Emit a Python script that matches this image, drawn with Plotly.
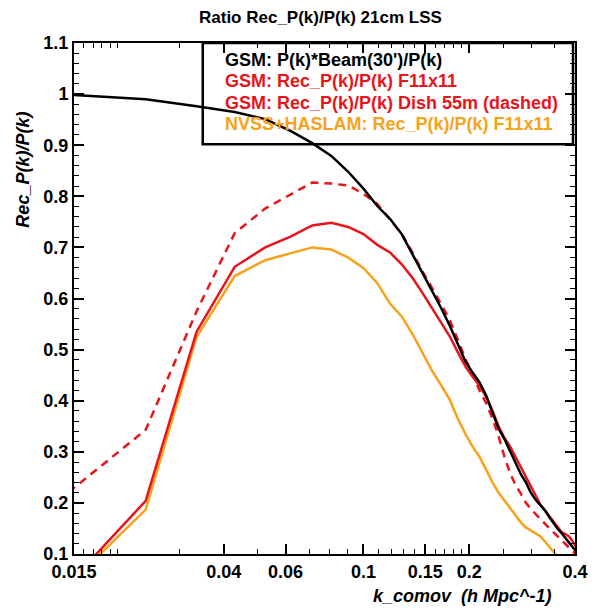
import plotly.graph_objects as go

# k grid (h Mpc^-1) and ratios
k = [0.0145, 0.024, 0.0335, 0.043, 0.0525, 0.062, 0.0715, 0.081, 0.0905, 0.1,
     0.1095, 0.119, 0.1285, 0.138, 0.1475, 0.157, 0.1665, 0.176, 0.1855, 0.195,
     0.2045, 0.214, 0.2235, 0.233, 0.2425, 0.252, 0.2615, 0.271, 0.2805, 0.29,
     0.2995, 0.309, 0.3185, 0.328, 0.3375, 0.347, 0.3565, 0.366, 0.3755, 0.385,
     0.3945, 0.404]

gsm_beam = [0.999, 0.990, 0.976, 0.965, 0.951, 0.928, 0.904, 0.879, 0.848, 0.815,
            0.781, 0.756, 0.726, 0.686, 0.651, 0.616, 0.581, 0.547, 0.511, 0.477,
            0.455, 0.436, 0.410, 0.377, 0.345, 0.325, 0.302, 0.278, 0.256, 0.240,
            0.220, 0.206, 0.196, 0.186, 0.173, 0.161, 0.150, 0.141, 0.131, 0.122,
            0.113, 0.105]

gsm_f11 = [0.042, 0.204, 0.535, 0.662, 0.700, 0.721, 0.743, 0.748, 0.740, 0.726,
           0.705, 0.690, 0.667, 0.640, 0.610, 0.580, 0.553, 0.526, 0.495, 0.467,
           0.447, 0.430, 0.407, 0.380, 0.350, 0.327, 0.310, 0.290, 0.268, 0.250,
           0.232, 0.215, 0.197, 0.186, 0.175, 0.163, 0.152, 0.143, 0.139, 0.134,
           0.124, 0.113]

gsm_dish = [0.221, 0.343, 0.575, 0.728, 0.776, 0.803, 0.827, 0.825, 0.821, 0.805,
            0.785, 0.755, 0.726, 0.690, 0.652, 0.620, 0.588, 0.558, 0.520, 0.482,
            0.452, 0.420, 0.395, 0.365, 0.330, 0.290, 0.258, 0.235, 0.218, 0.200,
            0.188, 0.178, 0.170, 0.160, 0.151, 0.143, 0.135, 0.127, 0.120, 0.112,
            0.105, 0.098]

nvss_f11 = [0.040, 0.187, 0.525, 0.644, 0.675, 0.688, 0.700, 0.696, 0.680, 0.660,
            0.630, 0.590, 0.565, 0.530, 0.493, 0.458, 0.430, 0.402, 0.365, 0.335,
            0.310, 0.290, 0.265, 0.240, 0.220, 0.205, 0.190, 0.175, 0.162, 0.152,
            0.146, 0.140, 0.135, 0.125, 0.115, 0.104, 0.095, 0.090, 0.085, 0.080,
            0.075, 0.070]

x_ticks = [0.015, 0.04, 0.06, 0.1, 0.15, 0.2, 0.4]
x_ticklabels = ["0.015", "0.04", "0.06", "0.1", "0.15", "0.2", "0.4"]
x_minor = [0.016, 0.017, 0.018, 0.019, 0.02, 0.03, 0.05, 0.07, 0.08, 0.09,
           0.11, 0.12, 0.13, 0.14, 0.16, 0.17, 0.18, 0.19, 0.25, 0.3, 0.35]
y_ticks = [0.1, 0.2, 0.3, 0.4, 0.5, 0.6, 0.7, 0.8, 0.9, 1.0, 1.1]
y_ticklabels = ["0.1", "0.2", "0.3", "0.4", "0.5", "0.6", "0.7", "0.8", "0.9", "1", "1.1"]

RED = "#e8141c"
ORANGE = "#f7a21b"
FONT = "Liberation Sans, Arial, sans-serif"

legend_lines = [
    ("GSM: P(k)*Beam(30')/P(k)", "black"),
    ("GSM: Rec_P(k)/P(k) F11x11", RED),
    ("GSM: Rec_P(k)/P(k) Dish 55m (dashed)", RED),
    ("NVSS+HASLAM: Rec_P(k)/P(k) F11x11", ORANGE),
]

fig = go.Figure()
fig.add_trace(go.Scatter(x=k, y=nvss_f11, mode="lines", line=dict(color=ORANGE, width=2.5)))
fig.add_trace(go.Scatter(x=k, y=gsm_f11, mode="lines", line=dict(color=RED, width=2.5)))
fig.add_trace(go.Scatter(x=k, y=gsm_dish, mode="lines",
                         line=dict(color=RED, width=2.5, dash="8px,6px")))
fig.add_trace(go.Scatter(x=k, y=gsm_beam, mode="lines", line=dict(color="black", width=2.5)))

# the page body has an 8px margin, so the figure is 8px smaller than the window
fig.update_layout(
    width=592, height=602,
    margin=dict(l=66, r=16, t=35, b=56),
    paper_bgcolor="white", plot_bgcolor="white",
    showlegend=False,
    font=dict(family=FONT, size=18, color="black"),
)

# title as an annotation so it can sit close to the top edge
fig.add_annotation(text="<b>Ratio Rec_P(k)/P(k) 21cm LSS</b>", xref="paper", yref="paper",
                   x=0.492, y=1.05, xanchor="center", yanchor="middle",
                   showarrow=False, font=dict(size=17))

# log range: log10(0.015) .. log10(0.4)
fig.update_xaxes(
    type="log", range=[-1.8239, -0.3979], showgrid=False, zeroline=False,
    showline=True, linecolor="black", linewidth=2, mirror="allticks",
    ticks="inside", ticklen=10, tickwidth=1.5, tickcolor="black",
    tickvals=x_ticks, ticktext=["<b>%s</b>" % t for t in x_ticklabels],
    tickfont=dict(size=18),
    minor=dict(tickvals=x_minor, ticks="inside", ticklen=5, tickcolor="black", tickwidth=1),
)

fig.update_yaxes(
    range=[0.1, 1.1], showgrid=False, zeroline=False,
    showline=True, linecolor="black", linewidth=2, mirror="allticks",
    ticks="inside", ticklen=10, tickwidth=1.5, tickcolor="black",
    tickvals=y_ticks, ticktext=["<b>%s</b>" % t for t in y_ticklabels],
    tickfont=dict(size=18),
    minor=dict(dtick=0.02, ticks="inside", ticklen=5, tickcolor="black", tickwidth=1),
)

# legend box drawn by hand, as in the original
fig.add_shape(type="rect", xref="paper", yref="paper", x0=0.257, x1=0.996, y0=0.802, y1=1.0,
              line=dict(color="black", width=2.5), fillcolor="rgba(0,0,0,0)", layer="below")
legend_y = [0.967, 0.926, 0.883, 0.841]
for (txt, col), yy in zip(legend_lines, legend_y):
    fig.add_annotation(text="<b>%s</b>" % txt, xref="paper", yref="paper",
                       x=0.297, y=yy, xanchor="left", yanchor="middle",
                       showarrow=False, font=dict(size=18, color=col))

fig.add_annotation(text="<b><i>Rec_P(k)/P(k)</i></b>", xref="paper", yref="paper",
                   x=-0.102, y=0.752, textangle=-90, showarrow=False,
                   xanchor="center", yanchor="middle", font=dict(size=18))
fig.add_annotation(text="<b><i>k_comov  (h Mpc^-1)</i></b>", xref="paper", yref="paper",
                   x=0.776, y=-0.083, showarrow=False,
                   xanchor="center", yanchor="middle", font=dict(size=18))

fig.write_html("out.html")
